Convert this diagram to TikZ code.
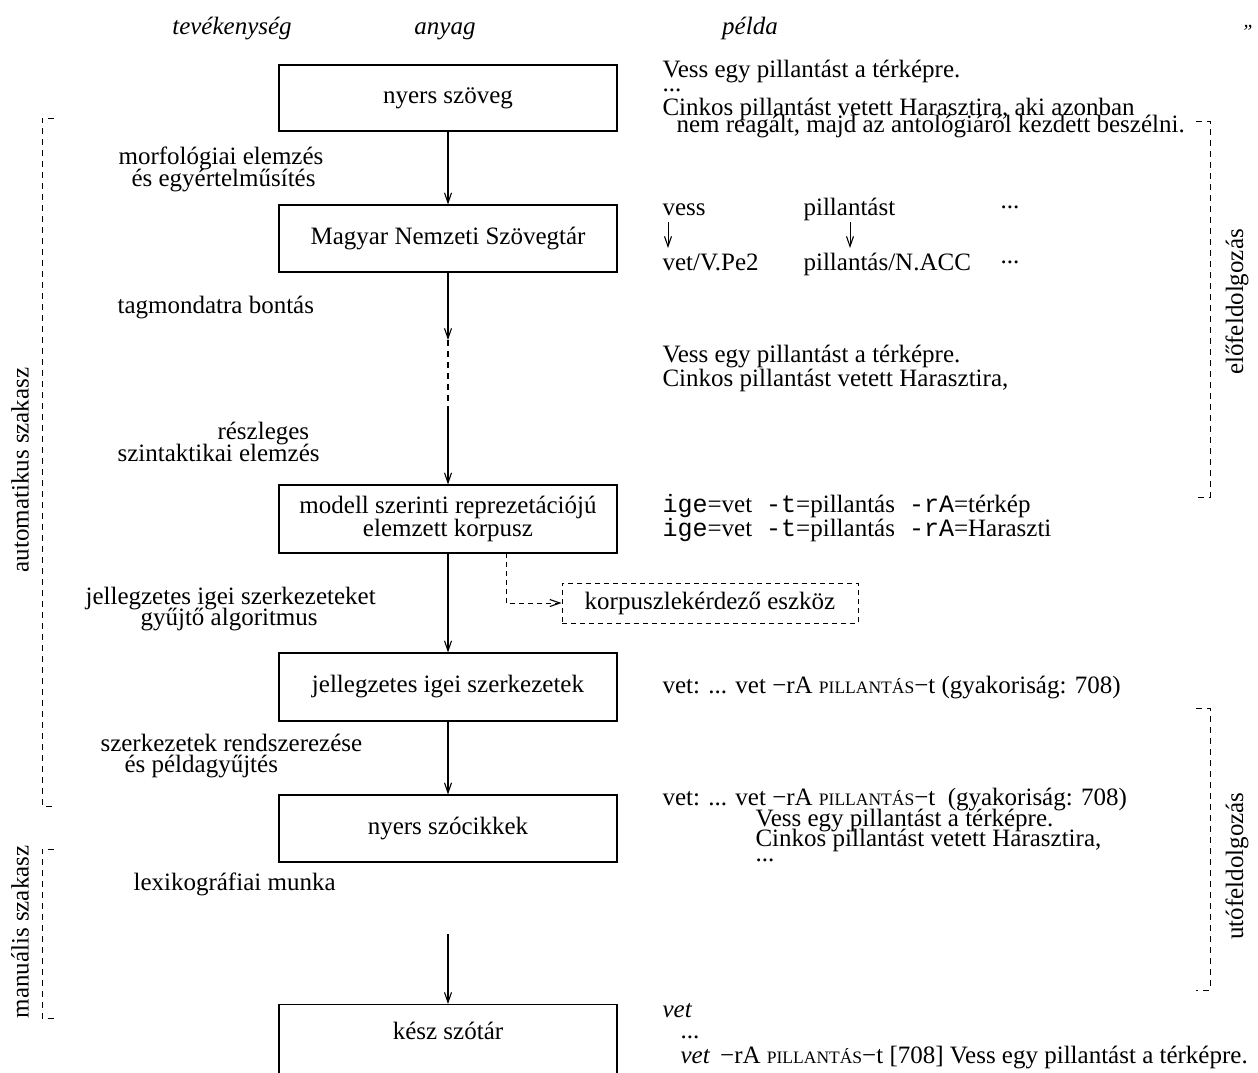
\documentclass[tikz,border=0pt]{standalone}
\usepackage{fontspec}
\setmainfont{Liberation Serif}
\newfontfamily\monof{Liberation Mono}
\usetikzlibrary{arrows.meta}
\newcommand\smc[1]{{\fontsize{17.5}{20}\selectfont #1}}
\newcommand\tto[1]{{\monof #1}}
\begin{document}
\begin{tikzpicture}[x=1pt,y=-1pt,
  font=\fontsize{25}{28}\selectfont,
  line width=1.1pt,
  arr/.style={-{Straight Barb[length=10pt,width=7pt,line width=1.1pt]}},
  mainbox/.style={draw, minimum width=338pt, minimum height=66pt, inner sep=0pt},
  txt/.style={anchor=west, inner sep=0pt, text height=18pt, text depth=5pt},
  dots/.style={anchor=base west, inner sep=0pt},
  brk/.style={dash pattern=on 6pt off 5pt, line width=1pt},
  vlab/.style={rotate=90, inner sep=0pt},
  hdr/.style={font=\fontsize{25}{28}\selectfont\itshape, inner sep=0pt, text height=18pt, text depth=5pt}]
\useasboundingbox (0,0) rectangle (1258,1072);
\clip (0,0) rectangle (1258,1072);

% headers
\node[hdr] (h1) at (232,28) {tevékenység};
\node[hdr] (h2) at (445,28) {anyag};
\node[hdr] (h3) at (750,28) {példa};
\node[inner sep=0pt, font=\fontsize{20}{20}\selectfont\itshape] (h4) at (1247,32) {''};

% main boxes
\node[mainbox] (b1) at (448,98) {nyers szöveg};
\node[mainbox, minimum height=67pt] (b2) at (448,238.5) {Magyar Nemzeti Szövegtár};
\node[mainbox, minimum height=68pt, align=center, font=\fontsize{25}{23}\selectfont] (b3) at (448,519) {modell szerinti reprezetációjú\\elemzett korpusz};
\node[mainbox, minimum height=68pt] (b4) at (448,687) {jellegzetes igei szerkezetek};
\node[mainbox, minimum height=67pt] (b5) at (448,828.5) {nyers szócikkek};
\node[mainbox, minimum height=90pt, anchor=north] (b6) at (448,1004) {};
\node[inner sep=0pt] (b6t) at (448,1031) {kész szótár};

% korpusz query tool
\node[draw, dash pattern=on 5pt off 4pt, line width=1pt, minimum width=296pt, minimum height=40pt, inner sep=0pt] (kq) at (710,603) {korpuszlekérdező eszköz};

% connectors
\coordinate (m1) at (448,340);
\coordinate (m2) at (448,410);
\coordinate (q0) at (506,553);
\coordinate (c5) at (448,934);
\draw[arr] (b1.south) -- (b2.north);
\draw[arr] (b2.south) -- (m1);
\draw[dash pattern=on 6pt off 5pt] (m1) -- (m2);
\draw[arr] (m2) -- (b3.north);
\draw[arr] (b3.south) -- (b4.north);
\draw[arr] (b4.south) -- (b5.north);
\draw[arr] (c5) -- (b6.north);
\draw[arr, dash pattern=on 5pt off 4pt, line width=1pt] (q0) |- (kq.west);

% left activity labels
\node[txt] (l1a) at (118,158) {morfológiai elemzés};
\node[txt] (l1b) at (131,180) {és egyértelműsítés};
\node[txt] (l2) at (117,307) {tagmondatra bontás};
\node[txt] (l3a) at (217,433) {részleges};
\node[txt] (l3b) at (117,455) {szintaktikai elemzés};
\node[txt] (l4a) at (85,598) {jellegzetes igei szerkezeteket};
\node[txt] (l4b) at (140,619) {gyűjtő algoritmus};
\node[txt] (l5a) at (100,745) {szerkezetek rendszerezése};
\node[txt] (l5b) at (124,766) {és példagyűjtés};
\node[txt] (l6) at (133,884) {lexikográfiai munka};

% left phase brackets
\node[vlab] (va) at (20,470) {automatikus szakasz};
\node[vlab] (vm) at (20,932) {manuális szakasz};
\draw[brk] (54,118) -- (42,118) -- (42,806) -- (54,806);
\draw[brk] (54,849) -- (42,849) -- (42,1018) -- (54,1018);

% right phase brackets
\node[vlab] (vp) at (1237,302) {előfeldolgozás};
\node[vlab] (vu) at (1237,866) {utófeldolgozás};
\draw[brk] (1196,121) -- (1210,121) -- (1210,497) -- (1196,497);
\draw[brk] (1196,708) -- (1210,708) -- (1210,990) -- (1196,990);

% examples
\node[txt] (e1) at (662,71) {Vess egy pillantást a térképre.};
\node[dots] (e2) at (662,91) {...};
\node[txt] (e3) at (662,109) {Cinkos pillantást vetett Harasztira, aki azonban};
\node[txt] (e4) at (676,126) {nem reagált, majd az antológiáról kezdett beszélni.};

\node[txt] (w1) at (662,209) {vess};
\node[txt] (w2) at (803,209) {pillantást};
\node[dots] (w3) at (1000,208) {...};
\node[txt] (w4) at (662,264) {vet/V.Pe2};
\node[txt] (w5) at (803,264) {pillantás/N.ACC};
\node[dots] (w6) at (1000,263) {...};
\coordinate (s1) at (668,222);
\coordinate (s2) at (668,248);
\coordinate (s3) at (850,222);
\coordinate (s4) at (850,248);
\draw[arr, line width=1pt] (s1) -- (s2);
\draw[arr, line width=1pt] (s3) -- (s4);

\node[txt] (t1) at (662,356) {Vess egy pillantást a térképre.};
\node[txt] (t2) at (662,380) {Cinkos pillantást vetett Harasztira,};

\node[txt] (p1) at (662,506) {\tto{ige}=vet\hspace{14pt}\tto{-t}=pillantás\hspace{14pt}\tto{-rA}=térkép};
\node[txt] (p2) at (662,530) {\tto{ige}=vet\hspace{14pt}\tto{-t}=pillantás\hspace{14pt}\tto{-rA}=Haraszti};

\node[txt] (j1) at (662,687) {vet: ... vet −rA \smc{PILLANTÁS}−t (gyakoriság: 708)};

\node[txt] (n1) at (662,799) {vet: ... vet −rA \smc{PILLANTÁS}−t\enspace(gyakoriság: 708)};
\node[txt] (n2) at (755,820) {Vess egy pillantást a térképre.};
\node[txt] (n3) at (755,840) {Cinkos pillantást vetett Harasztira,};
\node[dots] (n4) at (755,861) {...};

\node[txt] (k1) at (662,1011) {\itshape vet};
\node[dots] (k2) at (680,1038) {...};
\node[txt] (k3) at (680,1057) {\textit{vet}\hspace{10pt}−rA \smc{PILLANTÁS}−t [708] Vess egy pillantást a térképre.};
\end{tikzpicture}
\end{document}
